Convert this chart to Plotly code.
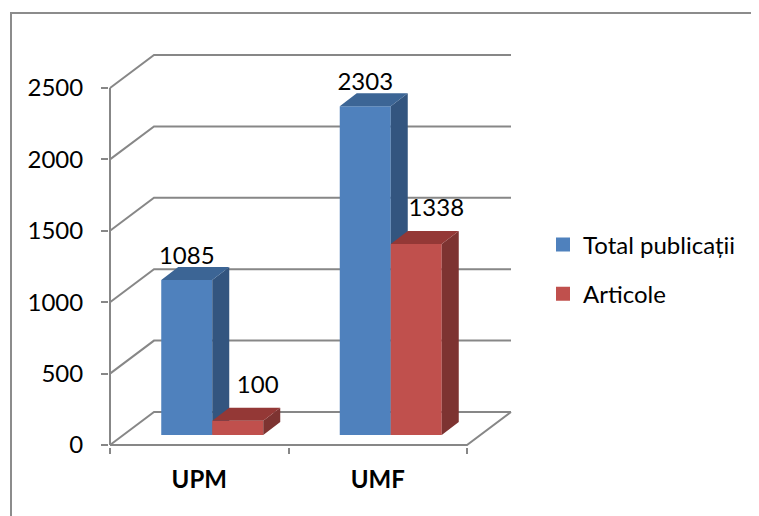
import plotly.graph_objects as go

# ---- data ----
categories = ["UPM", "UMF"]
series_names = ["Total publicații", "Articole"]
total_publicatii = [1085, 2303]
articole = [100, 1338]
y_ticks = [0, 500, 1000, 1500, 2000, 2500]

# ---- styling / geometry (pixels -> axis units) ----
KX = 178.5          # px per category unit
KY = 357 / 2500     # px per value unit
WALL_DX = 44 / KX
WALL_DY = 33 / KY
POS_DX = 13 / KX    # bars sit part-way into the depth
POS_DY = 10 / KY
DEP_DX = 17 / KX    # bar depth
DEP_DY = 13 / KY
BAR_W = 51 / KX

FONT = "Lato, 'Open Sans', sans-serif"
FS = 24
GRID = "#878787"
colors = {
    "front": ["#4F81BD", "#C0504D"],
    "side": ["#33557F", "#7D3331"],
    "top": ["#3C6595", "#943836"],
}

xL, xR = -0.5, len(categories) - 0.5

fig = go.Figure()

# ---- walls / floor ----
gx, gy = [], []
for v in y_ticks:
    gx += [xL, xL + WALL_DX, xR + WALL_DX, None]
    gy += [v, v + WALL_DY, v + WALL_DY, None]
gx += [xL, xR, xR + WALL_DX, None]
gy += [0, 0, WALL_DY, None]
gx += [xL, xL, None]
gy += [0, y_ticks[-1], None]
fig.add_trace(go.Scatter(x=gx, y=gy, mode="lines", line=dict(color=GRID, width=2),
                         hoverinfo="skip", showlegend=False))

# ---- 3D bars ----
all_series = [total_publicatii, articole]
for s, vals in enumerate(all_series):
    fx, fy, sx, sy, tx, ty = [], [], [], [], [], []
    for i, v in enumerate(vals):
        x0 = i + POS_DX - BAR_W + s * BAR_W
        x1 = x0 + BAR_W
        b = POS_DY
        t = POS_DY + v
        fx += [x0, x1, x1, x0, x0, None]
        fy += [b, b, t, t, b, None]
        sx += [x1, x1 + DEP_DX, x1 + DEP_DX, x1, x1, None]
        sy += [b, b + DEP_DY, t + DEP_DY, t, b, None]
        tx += [x0, x1, x1 + DEP_DX, x0 + DEP_DX, x0, None]
        ty += [t, t, t + DEP_DY, t + DEP_DY, t, None]
    for px_, py_, key in ((fx, fy, "front"), (sx, sy, "side"), (tx, ty, "top")):
        fig.add_trace(go.Scatter(x=px_, y=py_, mode="lines", fill="toself",
                                 fillcolor=colors[key][s], line=dict(width=0, color=colors[key][s]),
                                 hoverinfo="skip", showlegend=False))

# ---- data labels ----
label_dx = [0, 20 / KX]
label_dy = [22 / KY, 34 / KY]
for s, vals in enumerate(all_series):
    lx = [i + POS_DX - BAR_W / 2 + s * BAR_W + label_dx[s] for i in range(len(vals))]
    ly = [POS_DY + v + label_dy[s] for v in vals]
    fig.add_trace(go.Scatter(x=lx, y=ly, mode="text", text=[str(v) for v in vals],
                             textposition="middle center", cliponaxis=False,
                             textfont=dict(family=FONT, size=FS, color="#000000"),
                             hoverinfo="skip", showlegend=False))

# ---- legend entries ----
for s, name in enumerate(series_names):
    fig.add_trace(go.Scatter(x=[None], y=[None], mode="markers", name=name,
                             legendgroup=f"g{s}",
                             marker=dict(symbol="square", size=14, color=colors["front"][s])))

# page body has an 8px margin; lay out in page pixels
OFF = 8
PAGE_W, PAGE_H = 759, 516
W, H = PAGE_W - OFF, PAGE_H - OFF
PL, PR, PT, PB = 109, 520, 40, 447      # plot area in page pixels
L, T = PL - OFF, PT - OFF
R, B = W - (PR - OFF), H - (PB - OFF)
plot_w = PR - PL
plot_h = PB - PT

fig.update_layout(
    width=W, height=H,
    margin=dict(l=L, r=R, t=T, b=B, pad=0),
    paper_bgcolor="white", plot_bgcolor="white",
    font=dict(family=FONT, size=FS, color="#000000"),
    xaxis=dict(range=[xL - 1 / KX, xL + (plot_w - 1) / KX], showgrid=False, zeroline=False,
               showline=False, tickmode="array", tickvals=list(range(len(categories))),
               ticktext=[f"<b>{c}</b>" for c in categories], ticks="",
               ticklabelstandoff=16,
               minor=dict(tickmode="array", tickvals=[xL + k for k in range(len(categories) + 1)],
                          ticks="outside", ticklen=6, tickwidth=2, tickcolor=GRID, showgrid=False),
               tickfont=dict(family=FONT, size=FS, color="#000000"), fixedrange=True),
    yaxis=dict(range=[-2 / KY, (plot_h - 2) / KY], showgrid=False, zeroline=False,
               showline=False, tickmode="array", tickvals=y_ticks,
               ticktext=[str(v) for v in y_ticks],
               ticks="outside", ticklen=7, tickwidth=2, tickcolor=GRID,
               ticklabelstandoff=13,
               tickfont=dict(family=FONT, size=FS, color="#000000"), fixedrange=True),
    legend=dict(x=(543 - PL) / plot_w, xanchor="left", y=(PB - 269.5) / plot_h, yanchor="middle",
                traceorder="grouped", tracegroupgap=15, bgcolor="rgba(0,0,0,0)",
                font=dict(family=FONT, size=FS, color="#000000")),
    shapes=[dict(type="rect", xref="paper", yref="paper",
                 x0=(11 - PL) / plot_w, x1=1.8, y0=-0.5, y1=(PB - 13) / plot_h,
                 line=dict(color="#8C8C8C", width=2), fillcolor="rgba(0,0,0,0)", layer="below")],
)

fig.write_html("out.html")
